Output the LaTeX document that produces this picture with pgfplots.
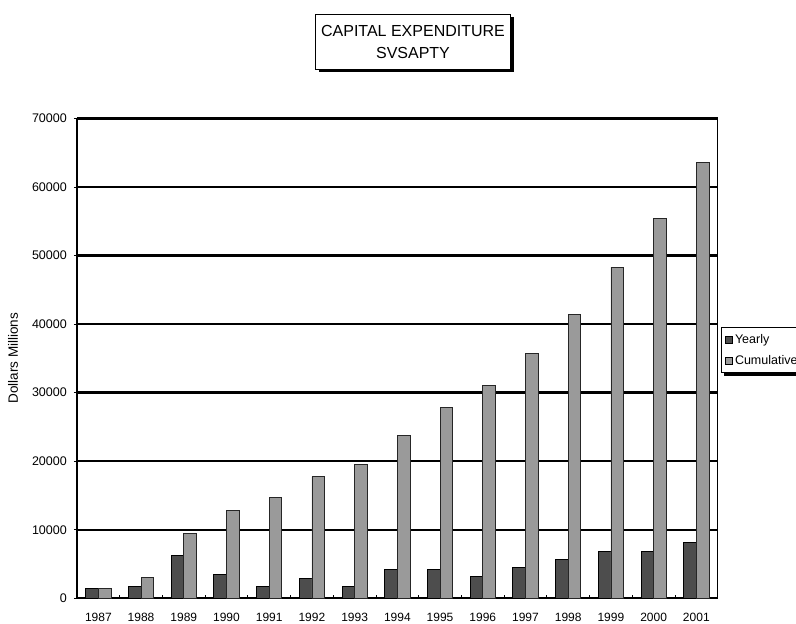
\documentclass[border=0pt]{standalone}
\usepackage{pgfplots}
\usepackage{pgfplotstable}
\pgfplotsset{compat=1.18}
\usepackage{fontspec}
\setmainfont{Liberation Sans}
\usetikzlibrary{shadows}

\definecolor{yearly}{HTML}{4D4D4D}
\definecolor{cumul}{HTML}{9A9A9A}

% year index (0 = 1987), yearly, cumulative
\pgfplotstableread{
idx yearly cumulative
0   1460   1460
1   1700   3060
2   6220   9430
3   3450   12830
4   1700   14770
5   2950   17750
6   1720   19550
7   4180   23700
8   4180   27890
9   3200   31100
10  4470   35670
11  5640   41370
12  6850   48310
13  6850   55420
14  8120   63580
}\capex

\begin{document}
\begin{tikzpicture}
\useasboundingbox (0,0) rectangle (796pt,624pt);
\clip (0,0) rectangle (796pt,624pt);

\node[draw=black, line width=1pt, fill=white,
      drop shadow={shadow xshift=3pt, shadow yshift=-3pt, fill=black, opacity=1},
      minimum width=195pt, minimum height=55pt, align=center,
      font=\fontsize{16}{21.5}\selectfont]
  at (413pt,582pt) {CAPITAL EXPENDITURE\\SVSAPTY};

\begin{axis}[
    at={(77pt,25.7pt)}, anchor=south west,
    scale only axis,
    width=640.7pt, height=480pt,
    ybar=0pt, bar width=12.6pt,
    xmin=-0.5, xmax=14.5,
    ymin=0, ymax=70000,
    xtick=data,
    xticklabels={1987,1988,1989,1990,1991,1992,1993,1994,1995,1996,1997,1998,1999,2000,2001},
    minor xtick={0.5,1.5,...,13.5},
    ytick={0,10000,...,60000},
    extra y ticks={70000},
    extra y tick labels={70000},
    extra y tick style={major grid style={black, line width=3.2pt}},
    scaled y ticks=false,
    /pgf/number format/1000 sep={},
    /pgf/number format/assume math mode=true,
    tick pos=left,
    tick align=inside,
    major x tick style={draw=none},
    minor tick length=3.5pt,
    minor x tick style={black, line width=0.8pt},
    major tick length=3pt,
    ytick style={black, line width=0.6pt, xshift=-3pt},
    ymajorgrids,
    major grid style={black, line width=2.2pt},
    axis line style={black, line width=1.2pt},
    yticklabel style={font=\fontsize{12.5}{14}\selectfont, inner sep=0pt, anchor=east, xshift=-10pt},
    xticklabel style={font=\fontsize{12}{13}\selectfont, inner sep=0pt, anchor=north, yshift=-15pt},
    every axis y label/.style={at={(rel axis cs:0,0.5)}, xshift=-64pt, rotate=90, anchor=center,
        font=\fontsize{13.5}{15}\selectfont},
    ylabel={Dollars Millions},
    legend style={name=capleg, at={(1.005,0.565)}, anchor=north west,
        draw=black, line width=1pt, fill=white,
        font=\fontsize{12.5}{14}\selectfont,
        inner xsep=4pt, inner ysep=5pt, row sep=6pt,
        nodes={inner xsep=2pt},
        legend cell align=left},
]
\addplot[ybar, fill=yearly, draw=black, line width=0.8pt,
    legend image code/.code={\draw[fill=yearly, draw=black, line width=0.6pt] (0pt,-3.5pt) rectangle (7pt,3.5pt);}]
    table[x=idx, y=yearly] {\capex};
\addplot[ybar, fill=cumul, draw=black!85, line width=0.8pt,
    legend image code/.code={\draw[fill=cumul, draw=black, line width=0.6pt] (0pt,-3.5pt) rectangle (7pt,3.5pt);}]
    table[x=idx, y=cumulative] {\capex};
\legend{Yearly, Cumulative}
\end{axis}
% shadow strip under the legend box (its right side runs off the page)
\fill[black] ([xshift=3pt]capleg.south west) rectangle ([xshift=3pt, yshift=-3pt]capleg.south east);
\end{tikzpicture}
\end{document}
